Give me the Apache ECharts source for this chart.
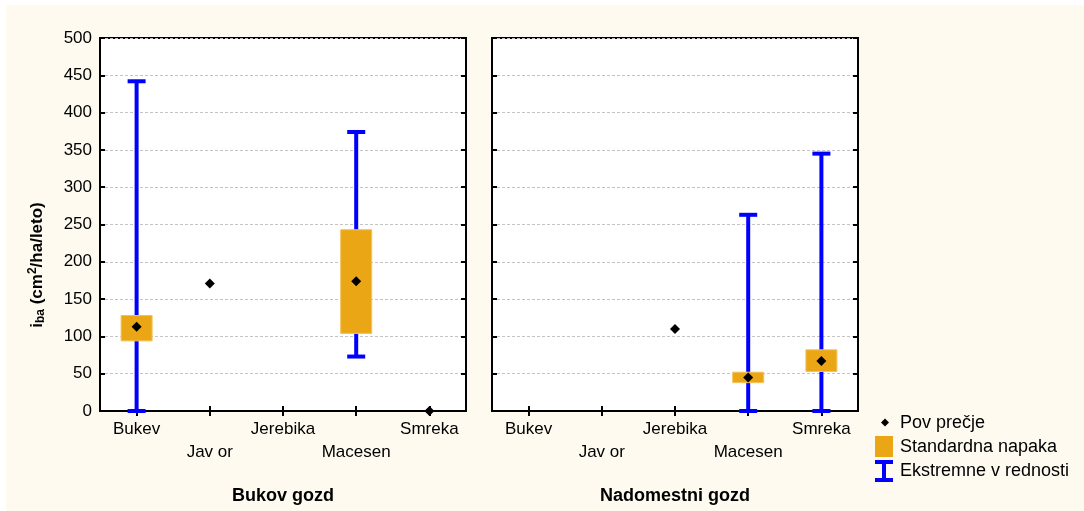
<!DOCTYPE html>
<html>
<head>
<meta charset="utf-8">
<script src="https://cdn.jsdelivr.net/npm/echarts@6/dist/echarts.min.js"></script>
<style>
html,body{margin:0;padding:0;background:#fff;}
#chart{width:1084px;height:511px;}
</style>
</head>
<body>
<div id="chart"></div>
<script>
// ---- data ----
const categories = ['Bukev', 'Jav or', 'Jerebika', 'Macesen', 'Smreka'];
const panelTitles = ['Bukov gozd', 'Nadomestni gozd'];
const yMin = 0, yMax = 500, yStep = 50;

// Bukov gozd
const bukovMean   = [113, 171, null, 174, 0];
const bukovSeLow  = [94, null, null, 104, null];
const bukovSeHigh = [128, null, null, 243, null];
const bukovMin    = [0, null, null, 73, null];
const bukovMax    = [442, null, null, 374, null];

// Nadomestni gozd
const nadMean   = [null, null, 110, 45, 67];
const nadSeLow  = [null, null, null, 38, 53];
const nadSeHigh = [null, null, null, 52, 82];
const nadMin    = [null, null, null, 0, 0];
const nadMax    = [null, null, null, 263, 345];

const legendNames = ['Pov prečje', 'Standardna napaka', 'Ekstremne v rednosti'];

// ---- build ----
const panels = [
  {mean: bukovMean, lo: bukovSeLow, hi: bukovSeHigh, mn: bukovMin, mx: bukovMax},
  {mean: nadMean, lo: nadSeLow, hi: nadSeHigh, mn: nadMin, mx: nadMax}
];
const FONT = 'Liberation Sans';
const BLUE = '#0000ff';
const ORANGE = '#eba616';

const grids = [
  {left: 100, top: 38, width: 366, height: 373},
  {left: 492, top: 38, width: 366, height: 373}
].map(g => Object.assign(g, {show: true, backgroundColor: '#ffffff', borderColor: '#000', borderWidth: 2}));

const xAxes = [], yAxes = [];
for (let i = 0; i < 2; i++) {
  xAxes.push({
    type: 'category', gridIndex: i, data: categories, position: 'bottom',
    axisLine: {show: true, lineStyle: {color: '#000', width: 2}},
    axisTick: {show: true, inside: true, alignWithLabel: true, length: 5, lineStyle: {color: '#000', width: 2}},
    axisLabel: {
      interval: 0, margin: 7, color: '#000', fontFamily: FONT, fontSize: 17, lineHeight: 23,
      formatter: (v, idx) => (idx % 2 ? '\n' + v : v)
    },
    name: panelTitles[i], nameLocation: 'middle', nameGap: 76,
    nameTextStyle: {color: '#000', fontFamily: FONT, fontSize: 18, fontWeight: 'bold'}
  });
}
for (let i = 0; i < 2; i++) {
  xAxes.push({
    type: 'category', gridIndex: i, data: categories, position: 'top',
    axisLine: {show: true, lineStyle: {color: '#000', width: 2}},
    axisTick: {show: true, inside: true, alignWithLabel: true, length: 5, lineStyle: {color: '#000', width: 2}},
    axisLabel: {show: false}
  });
}
for (let i = 0; i < 2; i++) {
  yAxes.push({
    type: 'value', gridIndex: i, min: yMin, max: yMax, interval: yStep, position: 'left',
    axisLine: {show: true, lineStyle: {color: '#000', width: 2}},
    axisTick: {show: true, inside: true, length: 5, lineStyle: {color: '#000', width: 2}},
    axisLabel: {show: i === 0, color: '#000', fontFamily: FONT, fontSize: 17, margin: 8},
    splitLine: {show: true, lineStyle: {color: '#c4c4c4', type: [3, 2], width: 1}}
  });
}
for (let i = 0; i < 2; i++) {
  yAxes.push({
    type: 'value', gridIndex: i, min: yMin, max: yMax, interval: yStep, position: 'right',
    axisLine: {show: true, lineStyle: {color: '#000', width: 2}},
    axisTick: {show: true, inside: true, length: 5, lineStyle: {color: '#000', width: 2}},
    axisLabel: {show: false}, splitLine: {show: false}
  });
}

function whiskerItem(params, api) {
  const x = api.value(0);
  const lo = api.coord([x, api.value(1)]);
  const hi = api.coord([x, api.value(2)]);
  const cw = 9;
  const st = {stroke: BLUE, lineWidth: 4};
  return {type: 'group', children: [
    {type: 'line', shape: {x1: lo[0], y1: lo[1], x2: hi[0], y2: hi[1]}, style: st},
    {type: 'line', shape: {x1: lo[0] - cw, y1: lo[1], x2: lo[0] + cw, y2: lo[1]}, style: st},
    {type: 'line', shape: {x1: hi[0] - cw, y1: hi[1], x2: hi[0] + cw, y2: hi[1]}, style: st}
  ]};
}
function boxItem(params, api) {
  const x = api.value(0);
  const lo = api.coord([x, api.value(1)]);
  const hi = api.coord([x, api.value(2)]);
  const w = 31;
  return {type: 'rect', shape: {x: lo[0] - w / 2, y: hi[1], width: w, height: lo[1] - hi[1]},
    style: {fill: ORANGE, stroke: '#f3c25a', lineWidth: 1}};
}

const series = [];
panels.forEach((p, i) => {
  const wData = [], bData = [], mData = [];
  categories.forEach((c, k) => {
    if (p.mn[k] != null && p.mx[k] != null) wData.push([k, p.mn[k], p.mx[k]]);
    if (p.lo[k] != null && p.hi[k] != null) bData.push([k, p.lo[k], p.hi[k]]);
    if (p.mean[k] != null) mData.push([k, p.mean[k]]);
  });
  series.push({type: 'custom', name: legendNames[2], xAxisIndex: i, yAxisIndex: i, data: wData,
    renderItem: whiskerItem, itemStyle: {color: BLUE}, z: 2, encode: {x: 0, y: [1, 2]}, silent: true});
  series.push({type: 'custom', name: legendNames[1], xAxisIndex: i, yAxisIndex: i, data: bData,
    renderItem: boxItem, itemStyle: {color: ORANGE}, z: 3, encode: {x: 0, y: [1, 2]}, silent: true});
  series.push({type: 'scatter', name: legendNames[0], xAxisIndex: i, yAxisIndex: i, data: mData,
    symbol: 'diamond', symbolSize: 10, itemStyle: {color: '#000', opacity: 1}, z: 4, silent: true});
});

const txt = {fontFamily: FONT, fontSize: 18, fill: '#000'};
const graphic = [
  {type: 'rect', left: 6, top: 5, shape: {width: 1078, height: 506}, style: {fill: '#fefaf0'}, z: -100, silent: true},
  // y axis title
  {type: 'text', x: 37, y: 265, rotation: Math.PI / 2, silent: true,
    style: {
      text: '{b|i}{sub|ba}{b| (cm}{sup|2}{b|/ha/leto)}', align: 'center', verticalAlign: 'middle',
      rich: {
        b: {fontFamily: FONT, fontSize: 17, fontWeight: 'bold', fill: '#000', lineHeight: 20},
        sub: {fontFamily: FONT, fontSize: 12, fontWeight: 'bold', fill: '#000', lineHeight: 10, verticalAlign: 'bottom'},
        sup: {fontFamily: FONT, fontSize: 12, fontWeight: 'bold', fill: '#000', lineHeight: 10, verticalAlign: 'top'}
      }
    }},
  // legend
  {type: 'polygon', shape: {points: [[885, 418.5], [889, 422.5], [885, 426.5], [881, 422.5]]}, style: {fill: '#000'}},
  {type: 'text', x: 900, y: 423, style: Object.assign({text: legendNames[0], verticalAlign: 'middle'}, txt)},
  {type: 'rect', shape: {x: 875, y: 436, width: 18, height: 21}, style: {fill: ORANGE}},
  {type: 'text', x: 900, y: 447, style: Object.assign({text: legendNames[1], verticalAlign: 'middle'}, txt)},
  {type: 'polyline', shape: {points: [[875, 462], [893, 462]]}, style: {stroke: BLUE, lineWidth: 4}},
  {type: 'polyline', shape: {points: [[884, 462], [884, 480]]}, style: {stroke: BLUE, lineWidth: 4}},
  {type: 'polyline', shape: {points: [[875, 480], [893, 480]]}, style: {stroke: BLUE, lineWidth: 4}},
  {type: 'text', x: 900, y: 471, style: Object.assign({text: legendNames[2], verticalAlign: 'middle'}, txt)}
];

const chart = echarts.init(document.getElementById('chart'), null, {renderer: 'canvas'});
chart.setOption({
  backgroundColor: 'transparent',
  animation: false,
  grid: grids,
  xAxis: xAxes,
  yAxis: yAxes,
  series: series,
  graphic: graphic
});
</script>
</body>
</html>
